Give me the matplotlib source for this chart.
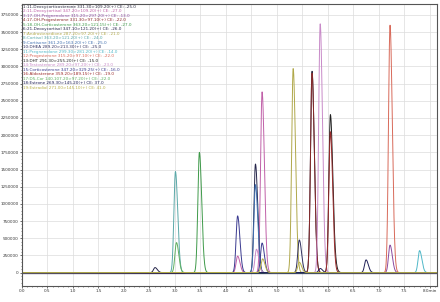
import numpy as np
import matplotlib
matplotlib.use("Agg")
import matplotlib.pyplot as plt
from matplotlib.ticker import MultipleLocator, FuncFormatter

# ---- data ----
compounds = [
    "1:11-Deoxycorticosterone 331.30>109.20(+) CE: -25.0",
    "2:11-Deoxycortisol 347.20>109.20(+) CE: -27.0",
    "3:17-OH-Pregnenolone 315.20>297.20(+) CE: -13.0",
    "4:17-OH-Progesterone 331.30>97.10(+) CE: -22.0",
    "5:18-OH-Corticosterone 363.20>121.15(+) CE: -27.0",
    "6:21-Deoxycortisol 347.10>121.20(+) CE: -26.0",
    "7:Androstenedione 287.20>97.20(+) CE: -21.0",
    "8:Cortisol 363.20>121.20(+) CE: -24.0",
    "9:Cortisone 361.20>163.20(+) CE: -25.0",
    "10:DHEA 289.20>213.30(+) CE: -25.0",
    "11:Pregnenolone 299.30>281.20(+) CE: -14.0",
    "12:Progesterone 315.20>97.10(+) CE: -22.0",
    "13:DHT 291.30>255.20(+) CE: -15.0",
    "14:Testosterone 289.20>97.20(+) CE: -23.0",
    "15:Corticosterone 347.20>329.25(+) CE: -16.0",
    "16:Aldosterone 359.20>189.15(+) CE: -19.0",
    "17:D5-Cor 140.107.20>97.20(+) CE: -22.0",
    "18:Estrone 269.30>145.20(+) CE: 37.0",
    "19:Estradiol 271.00>145.10(+) CE: 41.0",
]
# retention time (min) and peak height for each trace
peak_rt = [
    [5.69], [4.71, 4.23], [7.22], [5.69], [3.48],
    [4.58, 2.61], [5.32], [3.01], [4.58], [5.44],
    [7.80], [7.22], [6.05, 6.12], [5.85, 4.60], [4.23, 4.71],
    [6.05], [3.03], [6.75, 5.85], [5.44, 4.72],
]
peak_height = [
    [2930000], [2630000, 240000], [400000], [2900000], [1750000],
    [1580000, 73000], [2970000], [1470000], [1280000], [475000],
    [320000], [3600000], [2290000, 135000], [3620000, 340000], [825000, 430000],
    [2050000], [437000], [185000, 60000], [150000, 200000],
]
x_ticks = [0.0, 0.5, 1.0, 1.5, 2.0, 2.5, 3.0, 3.5, 4.0, 4.5, 5.0, 5.5, 6.0, 6.5, 7.0, 7.5, 8.0]
x_tick_labels = ["0.0", "0.5", "1.0", "1.5", "2.0", "2.5", "3.0", "3.5", "4.0",
                 "4.5", "5.0", "5.5", "6.0", "6.5", "7.0", "7.5", "8.0min"]

# ---- style ----
colors = [
    "#2a2a40", "#c060a8", "#8a4aa0", "#8a2a2a", "#3f9a4a",
    "#25254a", "#b0a84a", "#5aa8a8", "#4070b0", "#303060",
    "#50b8c8", "#d86a5a", "#202020", "#c88ac8", "#3a3a90",
    "#9a2a2a", "#60b060", "#202058", "#b8b048",
]

t = np.linspace(0, 8.2, 4000)
fig = plt.figure(figsize=(4.4, 3.02), dpi=100)
ax = fig.add_axes([0.05, 0.053, 0.943, 0.934])

for name, rts, hs, c in zip(compounds, peak_rt, peak_height, colors):
    y = np.zeros_like(t)
    for rt, h in zip(rts, hs):
        sig = np.where(t < rt, 0.03, 0.045)
        y += h * np.exp(-0.5 * ((t - rt) / sig) ** 2)
    ax.plot(t, y, color=c, lw=0.7, label=name)

ax.axhline(0, color="#202050", lw=0.9, zorder=1)

ax.set_xlim(0, 8.14)
ax.set_ylim(-195000, 3910000)
ax.set_xticks(x_ticks)
ax.set_xticklabels(x_tick_labels)
ax.xaxis.set_minor_locator(MultipleLocator(0.1))
ax.yaxis.set_major_locator(MultipleLocator(250000))
ax.yaxis.set_minor_locator(MultipleLocator(50000))
ax.yaxis.set_major_formatter(FuncFormatter(lambda v, p: f"{int(round(v))}"))
ax.tick_params(axis="both", which="major", labelsize=3.0, length=1.5, width=0.5,
               pad=0.8, colors="#333333")
ax.tick_params(axis="both", which="minor", length=1.0, width=0.4, colors="#333333")
ax.grid(True, which="major", color="#dcdcdc", lw=0.5)
ax.set_axisbelow(True)
for s in ax.spines.values():
    s.set_color("#555555")
    s.set_linewidth(0.8)

leg = ax.legend(loc="upper left", frameon=False, fontsize=3.0, labelspacing=0.12,
                handlelength=0, handletextpad=0, borderaxespad=0.15,
                labelcolor="linecolor", borderpad=0.1)
for h in leg.legend_handles:
    h.set_visible(False)

fig.savefig("out.png", dpi=100)
